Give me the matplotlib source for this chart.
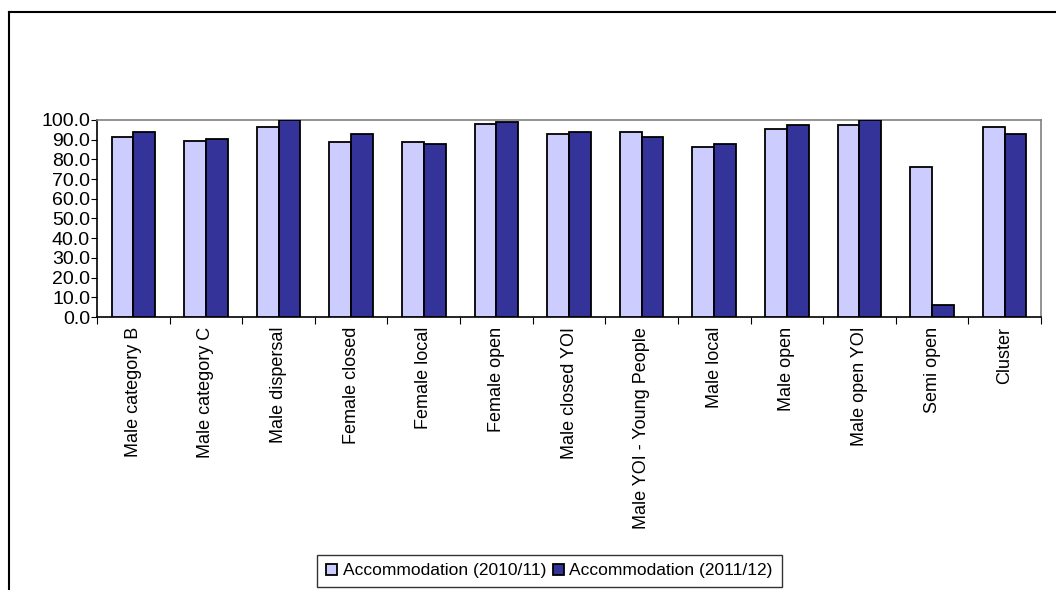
import matplotlib
matplotlib.use("Agg")
import matplotlib.pyplot as plt
from matplotlib.lines import Line2D
from matplotlib.ticker import FormatStrFormatter, MultipleLocator
import numpy as np

categories = ["Male category B", "Male category C", "Male dispersal", "Female closed",
              "Female local", "Female open", "Male closed YOI", "Male YOI - Young People",
              "Male local", "Male open", "Male open YOI", "Semi open", "Cluster"]
acc_2010 = [91.2, 89.5, 96.6, 88.9, 88.9, 98.1, 93.1, 93.9, 86.1, 95.6, 97.3, 76.0, 96.6]
acc_2011 = [93.9, 90.5, 100.0, 93.0, 88.0, 98.8, 93.9, 91.4, 88.0, 97.5, 100.0, 5.9, 93.1]
series_labels = ["Accommodation (2010/11)", "Accommodation (2011/12)"]

plt.rcParams['font.family'] = ['Liberation Sans', 'DejaVu Sans']

W, H = 1056, 590
fig = plt.figure(figsize=(W / 100, H / 100), dpi=100)
ax = fig.add_axes([97 / W, 1 - 317 / H, (1041 - 97) / W, (317 - 120) / H])

n = len(categories)
x = np.arange(n) + 0.5
bw = 0.3
ax.bar(x - bw / 2, acc_2010, bw, color="#CCCCFF", edgecolor="black", linewidth=1.3,
       label=series_labels[0], zorder=3)
ax.bar(x + bw / 2, acc_2011, bw, color="#333399", edgecolor="black", linewidth=1.3,
       label=series_labels[1], zorder=3)

ax.set_xlim(0, n)
ax.set_ylim(0, 100)
ax.yaxis.set_major_locator(MultipleLocator(10))
ax.yaxis.set_major_formatter(FormatStrFormatter("%.1f"))
ax.tick_params(axis="y", length=4, pad=1, labelsize=14, direction="out")

ax.set_xticks(np.arange(n + 1))
ax.set_xticklabels([])
ax.set_xticks(x, minor=True)
ax.set_xticklabels(categories, minor=True, rotation=90, fontsize=13, va="top", ha="center")
ax.tick_params(axis="x", which="major", length=5, direction="out")
ax.tick_params(axis="x", which="minor", length=0, pad=7)

for side in ["top", "right"]:
    ax.spines[side].set_color("#808080")
    ax.spines[side].set_linewidth(1.2)
for side in ["left", "bottom"]:
    ax.spines[side].set_color("black")
    ax.spines[side].set_linewidth(1.2)

leg = fig.legend(loc="center", bbox_to_anchor=(549.5 / W, 1 - 571 / H), ncol=2,
                 fontsize=12.5, frameon=True, fancybox=False, edgecolor="black",
                 handlelength=0.65, handleheight=0.65, handletextpad=0.3,
                 columnspacing=0.4, borderpad=0.5, borderaxespad=0)
leg.get_frame().set_linewidth(1.0)

# outer chart border
fig.add_artist(Line2D([8.5 / W, 8.5 / W], [0, 1 - 12 / H], transform=fig.transFigure,
                      color="black", linewidth=1.5))
fig.add_artist(Line2D([8.5 / W, 1], [1 - 12 / H, 1 - 12 / H], transform=fig.transFigure,
                      color="black", linewidth=1.5))

fig.savefig("out.png", dpi=100)
